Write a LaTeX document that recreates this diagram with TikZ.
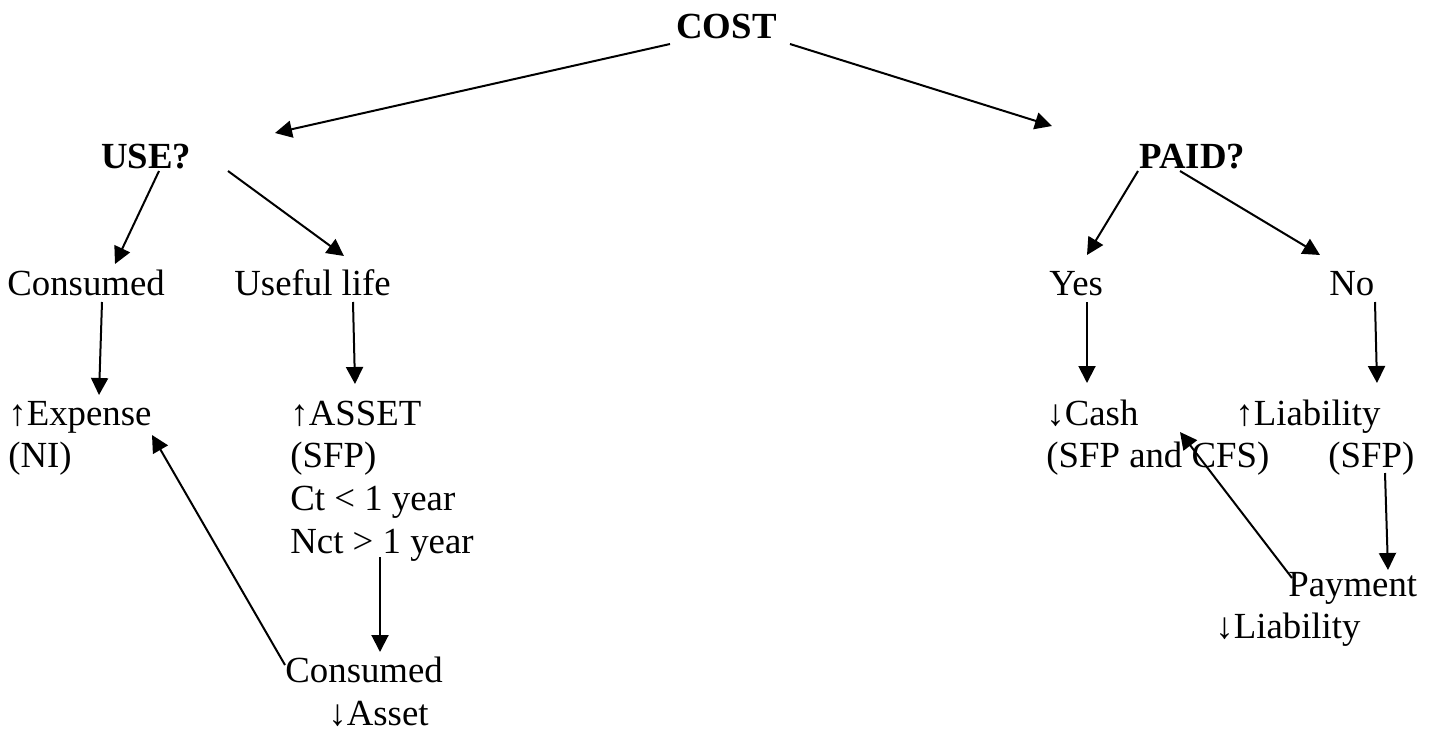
\documentclass[tikz,border=0pt]{standalone}
\usepackage{fontspec}
\setmainfont{Liberation Serif}
\usepackage{tikz}
\usetikzlibrary{arrows.meta}
\tikzset{
    %Define standard arrow tip
    >={Triangle[length=8.5pt,width=8.5pt]},
    %Define style for plain labels
    txt/.style={
           anchor=base west,
           inner sep=0pt,
           font=\fontsize{18.4}{21}\selectfont},
    %Define style for question labels
    head/.style={
           txt,
           font=\fontsize{18.4}{21}\selectfont\bfseries},
    % Define arrow style
    pil/.style={
           ->,
           line width=1pt}
}
\begin{document}
\begin{tikzpicture}[x=0.5pt,y=-0.5pt]
\useasboundingbox (0,0) rectangle (1440,734);
 %nodes
\node[head] (cost) at (676,38) {COST};
\node[head] (use) at (101,168) {USE?};
\node[head] (paid) at (1139,168) {PAID?};
\node[txt] (consumed) at (7,295) {Consumed};
\node[txt] (useful) at (234,295) {Useful life};
\node[txt] (yes) at (1049,295) {Yes};
\node[txt] (no) at (1329,295) {No};
\node[txt] (expense) at (8,425) {↑Expense};
\node[txt] (ni) at (8,467) {(NI)};
\node[txt] (asset) at (290,425) {↑ASSET};
\node[txt] (sfpA) at (290,467) {(SFP)};
\node[txt] (ct) at (290,510) {Ct < 1 year};
\node[txt] (nct) at (290,553) {Nct > 1 year};
\node[txt] (cash) at (1046,425) {↓Cash};
\node[txt] (sfpcfs) at (1046,467) {(SFP and CFS)};
\node[txt] (liab) at (1235,425) {↑Liability};
\node[txt] (sfpL) at (1328,467) {(SFP)};
\node[txt] (payment) at (1288,596) {Payment};
\node[txt] (decliab) at (1215,638) {↓Liability};
\node[txt] (consumedB) at (285,682) {Consumed};
\node[txt] (decasset) at (328,725) {↓Asset};
 %arrows
\draw[pil] ([shift={(-6,6)}]cost.base west) -- ([shift={(174,-35)}]use.base west);
\draw[pil] ([shift={(114,6)}]cost.base west) -- ([shift={(-87,-42)}]paid.base west);
\draw[pil] ([shift={(58,3)}]use.base west) -- ([shift={(108,-31)}]consumed.base west);
\draw[pil] ([shift={(127,3)}]use.base west) -- ([shift={(110,-39)}]useful.base west);
\draw[pil] ([shift={(-1,3)}]paid.base west) -- ([shift={(38,-40)}]yes.base west);
\draw[pil] ([shift={(41,3)}]paid.base west) -- ([shift={(-9,-40)}]no.base west);
\draw[pil] ([shift={(95,7)}]consumed.base west) -- ([shift={(91,-30)}]expense.base west);
\draw[pil] ([shift={(119,7)}]useful.base west) -- ([shift={(65,-41)}]asset.base west);
\draw[pil] ([shift={(38,7)}]yes.base west) -- ([shift={(41,-42)}]cash.base west);
\draw[pil] ([shift={(46,7)}]no.base west) -- ([shift={(142,-42)}]liab.base west);
\draw[pil] ([shift={(90,4)}]nct.base west) -- ([shift={(95,-30)}]consumedB.base west);
\draw[pil] ([shift={(0,-17)}]consumedB.base west) -- ([shift={(144,10)}]expense.base west);
\draw[pil] ([shift={(57,6)}]sfpL.base west) -- ([shift={(100,-26)}]payment.base west);
\draw[pil] ([shift={(4,-18)}]payment.base west) -- ([shift={(134,-35)}]sfpcfs.base west);
\end{tikzpicture}
\end{document}
